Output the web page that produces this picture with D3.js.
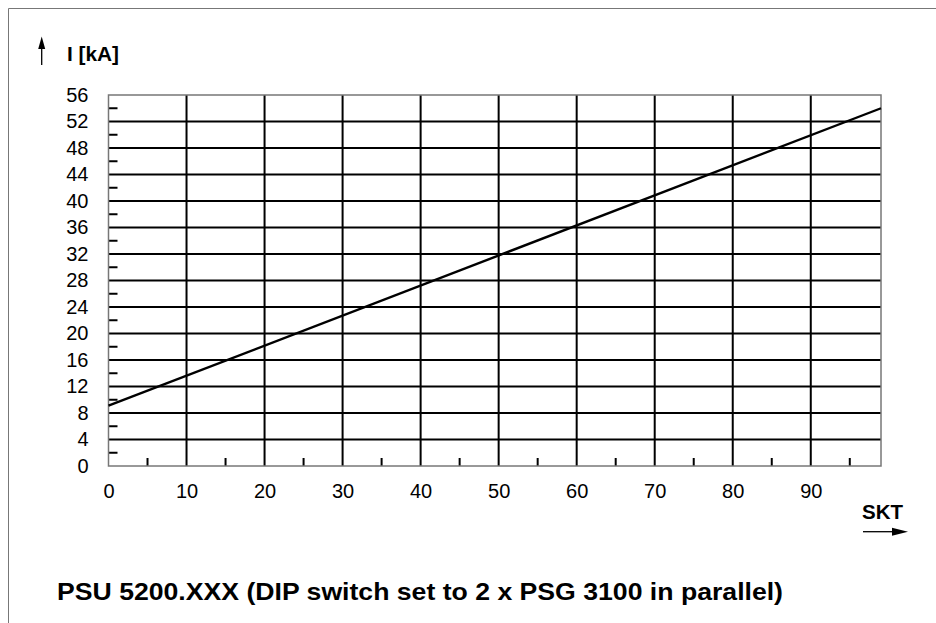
<!DOCTYPE html>
<html><head><meta charset="utf-8">
<script src="https://cdn.jsdelivr.net/npm/d3@7"></script>
<style>body{margin:0;background:#fff}svg{display:block}text{font-family:"Liberation Sans",Arial,sans-serif;fill:#000}</style>
</head><body>
<svg id="c" width="936" height="623"></svg>
<script>
const xTicks = [0,10,20,30,40,50,60,70,80,90];
const xMinor = [5,15,25,35,45,55,65,75,85,95];
const yTicks = [0,4,8,12,16,20,24,28,32,36,40,44,48,52,56];
const yMinor = [2,6,10,14,18,22,26,30,34,38,42,46,50,54];
const skt = [0, 99];
const current = [9.1, 54.0];
const xLabel = "SKT";
const yLabel = "I [kA]";
const title = "PSU 5200.XXX (DIP switch set to 2 x PSG 3100 in parallel)";

const svg = d3.select("#c");
const L=108.5, R=881, T=95, B=466;
const x = d3.scaleLinear().domain([0,99]).range([L,R]);
const y = d3.scaleLinear().domain([0,56]).range([B,T]);
const FF = "Liberation Sans, Arial, sans-serif";

// outer frame
svg.append("path").attr("d","M8.5,623 V8.5 H936").attr("fill","none").attr("stroke","#777").attr("stroke-width",1);

// grid
const g = svg.append("g");
g.selectAll(".vg").data(xTicks.filter(d=>d>0)).join("line")
  .attr("x1",d=>x(d)).attr("x2",d=>x(d)).attr("y1",T).attr("y2",B)
  .attr("stroke","#000").attr("stroke-width",2);
g.selectAll(".hg").data(yTicks.filter(d=>d>0&&d<56)).join("line")
  .attr("x1",L).attr("x2",R).attr("y1",d=>y(d)).attr("y2",d=>y(d))
  .attr("stroke","#000").attr("stroke-width",2);
// minor ticks
g.selectAll(".xm").data(xMinor).join("line")
  .attr("x1",d=>x(d)).attr("x2",d=>x(d)).attr("y1",B).attr("y2",B-8)
  .attr("stroke","#000").attr("stroke-width",2);
g.selectAll(".ym").data(yMinor).join("line")
  .attr("x1",L).attr("x2",L+9).attr("y1",d=>y(d)).attr("y2",d=>y(d))
  .attr("stroke","#000").attr("stroke-width",2);
// plot frame
svg.append("rect").attr("x",L).attr("y",T).attr("width",R-L).attr("height",B-T)
  .attr("fill","none").attr("stroke","#777").attr("stroke-width",1.5);

// axes labels
const xa = svg.append("g").attr("transform",`translate(0,${B})`)
  .call(d3.axisBottom(x).tickValues(xTicks).tickSize(0).tickPadding(18));
xa.select(".domain").remove();
xa.selectAll("text").attr("font-size",20).attr("font-family",FF);
const ya = svg.append("g").attr("transform",`translate(${L},0)`)
  .call(d3.axisLeft(y).tickValues(yTicks).tickSize(0).tickPadding(20));
ya.select(".domain").remove();
ya.selectAll("text").attr("font-size",20).attr("font-family",FF);

// data line
svg.append("path").datum(skt.map((s,i)=>[s,current[i]]))
  .attr("d",d3.line().x(d=>x(d[0])).y(d=>y(d[1])))
  .attr("fill","none").attr("stroke","#000").attr("stroke-width",2.4);

// y label + arrow
svg.append("text").attr("x",67).attr("y",61).attr("font-size",20).attr("font-weight","bold")
  .attr("textLength",52).attr("lengthAdjust","spacingAndGlyphs").text(yLabel);
svg.append("line").attr("x1",41.7).attr("x2",41.7).attr("y1",65).attr("y2",45).attr("stroke","#000").attr("stroke-width",1.3);
svg.append("path").attr("d","M41.7,36.5 L38.2,49 L45.2,49 Z").attr("fill","#000");

// x label + arrow
svg.append("text").attr("x",862).attr("y",519).attr("font-size",20).attr("font-weight","bold")
  .attr("textLength",41).attr("lengthAdjust","spacingAndGlyphs").text(xLabel);
svg.append("line").attr("x1",863).attr("x2",895).attr("y1",531.7).attr("y2",531.7).attr("stroke","#000").attr("stroke-width",1.3);
svg.append("path").attr("d","M908,531.7 L892,527.7 L892,535.7 Z").attr("fill","#000");

// title
svg.append("text").attr("x",57).attr("y",599.5).attr("font-size",24).attr("font-weight","bold")
  .attr("textLength",726).attr("lengthAdjust","spacingAndGlyphs").text(title);
</script>
</body></html>
